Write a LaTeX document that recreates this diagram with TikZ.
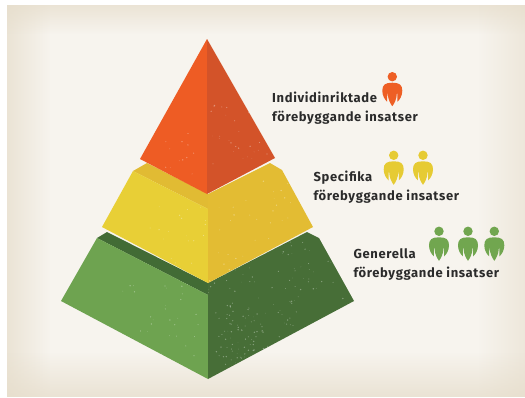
\documentclass[tikz,border=0pt]{standalone}
\usepackage{fontspec}
\setmainfont{Fira Sans}
\newfontfamily\labfont[LetterSpace=5]{Fira Sans}
\usetikzlibrary{fadings}
\definecolor{bgbase}{HTML}{F7F4EE}
\definecolor{bgedge}{HTML}{E6DDCB}
\definecolor{redL}{HTML}{EE5C24}
\definecolor{redR}{HTML}{D35329}
\definecolor{yelL}{HTML}{E8CF36}
\definecolor{yelR}{HTML}{E3BC33}
\definecolor{yelS}{HTML}{E1BB33}
\definecolor{greL}{HTML}{6EA350}
\definecolor{greR}{HTML}{476E37}
\definecolor{greS}{HTML}{426B35}
\definecolor{txt}{HTML}{2B2B2B}
\definecolor{pRed}{HTML}{EE5F25}
\definecolor{pYel}{HTML}{E6CB33}
\definecolor{pGre}{HTML}{71A64F}
\tikzset{
  lab/.style={anchor=base west,inner sep=0pt,text=txt,font=\labfont\fontsize{13}{15}\selectfont\bfseries},
  person/.pic={
    \fill[pic actions] (0,0) circle (4.7);
    \fill[pic actions] (0,6) .. controls (-7,6) and (-10,8) .. (-10,14)
      .. controls (-10,19) and (-7.5,23) .. (-5.2,25)
      -- (-5,17) -- (-4.5,17) .. controls (-4.5,22) and (-2,27) .. (0,29.5)
      .. controls (2,27) and (4.5,22) .. (4.5,17) -- (5,17) -- (5.2,25)
      .. controls (7.5,23) and (10,19) .. (10,14)
      .. controls (10,8) and (7,6) .. (0,6) -- cycle;
  }
}
\newcommand{\specks}[5]{%
  \pgfmathsetseed{#1}
  \foreach \k in {1,...,#2}{
    \pgfmathsetmacro{\sx}{#3+rnd*(#4-#3)}
    \pgfmathsetmacro{\sy}{#5+rnd*60}
    \pgfmathsetmacro{\sr}{0.25+rnd*0.55}
    \fill[white,opacity=.35] (\sx,\sy) circle (\sr);
  }}
\begin{document}
\begin{tikzpicture}[x=1pt,y=-1pt]
\useasboundingbox (0,0) rectangle (525,397);
\fill[white] (0,0) rectangle (525,397);
\fill[bgbase] (7,5) rectangle (525,397);
\fill[bgedge,path fading=east,opacity=.7] (7,5) rectangle (50,397);
\fill[bgedge,path fading=south,opacity=.7] (7,5) rectangle (525,34);
\fill[bgedge,path fading=west,opacity=.55] (478,5) rectangle (525,397);
\fill[bgedge,path fading=north,opacity=.75] (7,352) rectangle (525,397);
% green tier
\fill[greS] (208,283) -- (107,232) -- (97,238) -- (208,295) -- cycle;
\fill[greL] (97,238) -- (208,295) -- (208,379) -- (61,301) -- cycle;
\fill[greR] (208,283) -- (307,232) -- (319,238) -- (354,301) -- (208,379) -- (208,295) -- cycle;
% yellow tier
\fill[yelS] (208,194) -- (147,163) -- (133,171) -- (208,209) -- cycle;
\fill[yelL] (133,171) -- (208,209) -- (208,283) -- (102,227) -- cycle;
\fill[yelR] (208,194) -- (270,163) -- (282,170) -- (313,227) -- (208,283) -- (208,209) -- cycle;
% red tier
\fill[redL] (207,39) -- (207,194) -- (140,159) -- cycle;
\fill[redR] (207,39) -- (275,158) -- (207,194) -- cycle;
% texture
\begin{scope}
\clip (208,283) -- (307,232) -- (319,238) -- (354,301) -- (208,379) -- cycle;
\specks{11}{70}{208}{345}{240}
\specks{12}{70}{215}{300}{300}
\specks{13}{50}{225}{265}{315}
\end{scope}
\begin{scope}
\clip (97,238) -- (208,295) -- (208,379) -- (61,301) -- cycle;
\specks{21}{20}{120}{207}{265}
\specks{22}{20}{120}{207}{315}
\end{scope}
\begin{scope}
\clip (208,209) -- (282,170) -- (313,227) -- (208,283) -- cycle;
\specks{31}{25}{208}{300}{175}
\specks{32}{15}{208}{280}{225}
\end{scope}
\begin{scope}
\clip (133,171) -- (208,209) -- (208,283) -- (102,227) -- cycle;
\specks{41}{18}{150}{208}{205}
\end{scope}
\begin{scope}
\clip (207,39) -- (275,158) -- (207,194) -- cycle;
\specks{51}{35}{207}{270}{105}
\end{scope}
\begin{scope}
\clip (207,39) -- (207,194) -- (140,159) -- cycle;
\specks{61}{12}{160}{207}{125}
\end{scope}
% labels
\node[lab] (ind1) at (272,102.7) {Individinriktade};
\node[lab] (ind2) at (272,121.7) {förebyggande insatser};
\node[lab] (spe1) at (313.3,181.7) {Specifika};
\node[lab] (spe2) at (313.3,200.3) {förebyggande insatser};
\node[lab] (gen1) at (353.3,258) {Generella};
\node[lab] (gen2) at (353.3,277.3) {förebyggande insatser};
% people
\pic[fill=pRed] at (392.3,76.7) {person};
\pic[fill=pYel] at (393.7,155.3) {person};
\pic[fill=pYel] at (423,155.3) {person};
\pic[fill=pGre] at (439,231.3) {person};
\pic[fill=pGre] at (468,231.3) {person};
\pic[fill=pGre] at (494.3,231.3) {person};
\end{tikzpicture}
\end{document}
